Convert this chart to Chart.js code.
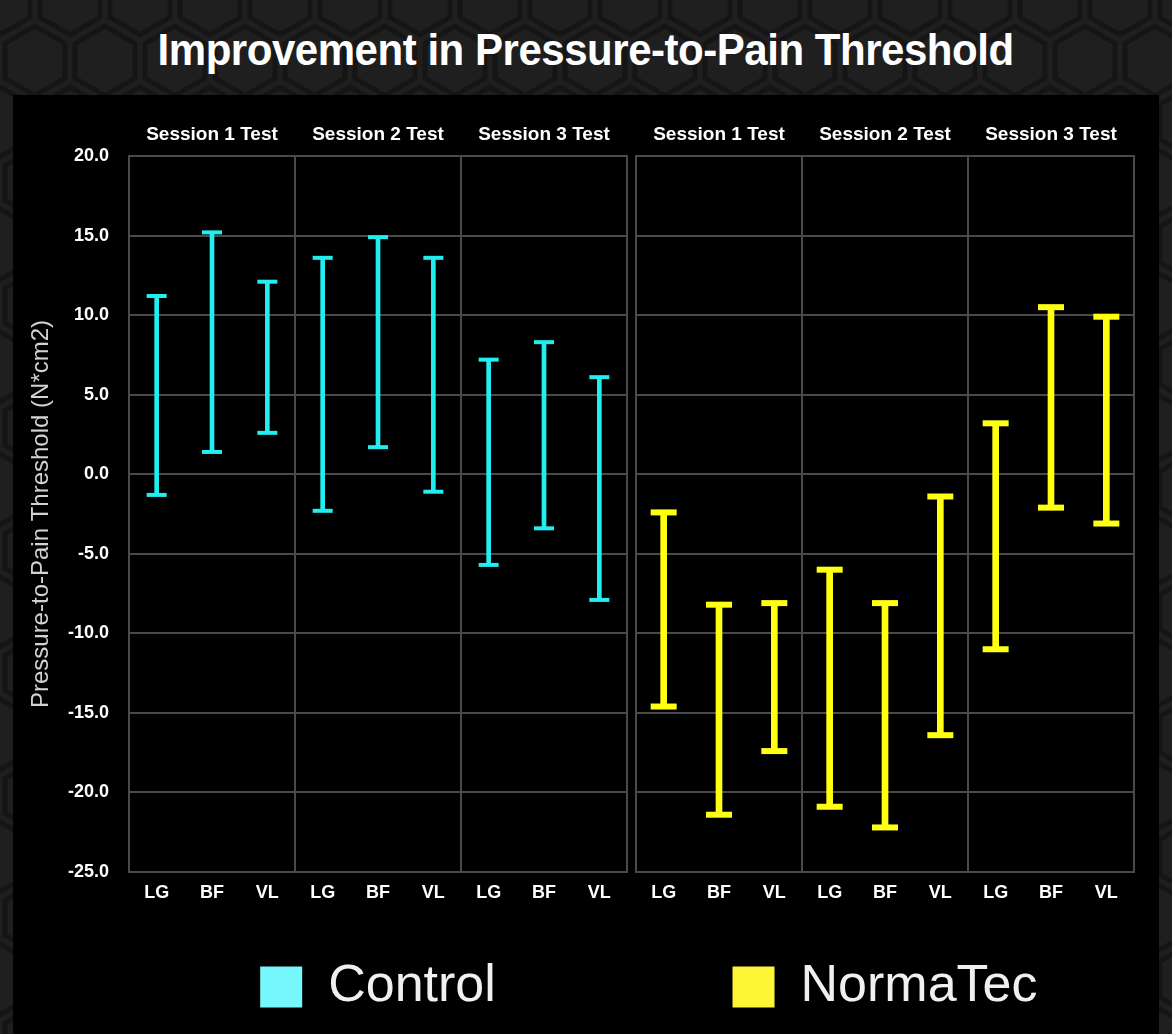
<!DOCTYPE html>
<html>
<head>
<meta charset="utf-8">
<script src="https://cdn.jsdelivr.net/npm/chart.js@4.4.0/dist/chart.umd.min.js"></script>
<style>
html,body{margin:0;padding:0;}
body{width:1172px;height:1034px;overflow:hidden;position:relative;background-color:#1f1f1f;font-family:"Liberation Sans",Arial,sans-serif;}
#panel{position:absolute;left:13px;top:95px;width:1146px;height:939px;background:#000;}
#title{position:absolute;left:0;top:28px;width:1172px;text-align:center;line-height:44px;height:44px;white-space:nowrap;}
#title span{display:inline-block;color:#fff;font-weight:bold;font-size:45px;letter-spacing:-0.5px;transform-origin:50% 50%;}
.wrap{position:absolute;top:95px;height:928px;}
#wl{left:0;width:632px;}
#wr{left:632px;width:540px;}
</style>
</head>
<body>
<div id="panel"></div>
<div id="title"><span id="titleText">Improvement in Pressure-to-Pain Threshold</span></div>
<div class="wrap" id="wl"><canvas id="cl" width="632" height="928"></canvas></div>
<div class="wrap" id="wr"><canvas id="cr" width="540" height="928"></canvas></div>
<script>
// ---- data ----
const sessions = ['Session 1 Test', 'Session 2 Test', 'Session 3 Test'];
const muscles = ['LG', 'BF', 'VL', 'LG', 'BF', 'VL', 'LG', 'BF', 'VL'];
const yTickValues = [20, 15, 10, 5, 0, -5, -10, -15, -20, -25];
const yTitle = 'Pressure-to-Pain Threshold (N*cm2)';
const controlName = 'Control';
const controlHigh = [11.2, 15.2, 12.1, 13.6, 14.9, 13.6, 7.2, 8.3, 6.1];
const controlLow  = [-1.3, 1.4, 2.6, -2.3, 1.7, -1.1, -5.7, -3.4, -7.9];
const normaName = 'NormaTec';
const normaHigh = [-2.4, -8.2, -8.1, -6.0, -8.1, -1.4, 3.2, 10.5, 9.9];
const normaLow  = [-14.6, -21.4, -17.4, -20.9, -22.2, -16.4, -11.0, -2.1, -3.1];

// ---- background hex pattern ----
(function(){
  const svg = '<svg xmlns="http://www.w3.org/2000/svg" width="70" height="122.5" viewBox="0 0 28 49"><path fill="#141414" fill-opacity="0.9" d="M13.99 9.25l13 7.5v15l-13 7.5L1 31.75v-15l12.99-7.5zM3 17.9v12.7l10.99 6.34 11-6.35V17.9l-11-6.34L3 17.9zM0 15l12.98-7.5V0h-2v6.35L0 12.69v2.3zm0 18.5L12.98 41v8h-2v-6.85L0 35.81v-2.3zM15 0v7.5L27.99 15H28v-2.31h-.01L17 6.35V0h-2zm0 49v-8l12.99-7.5H28v2.31h-.01L17 42.15V49h-2z"/></svg>';
  document.body.style.backgroundImage = 'url("data:image/svg+xml,' + encodeURIComponent(svg) + '")';
})();

// fit title width
(function(){
  const t = document.getElementById('titleText');
  const w = t.getBoundingClientRect().width;
  t.style.transform = 'scaleX(' + (856 / w) + ')';
})();

Chart.defaults.font.family = '"Liberation Sans", Arial, sans-serif';

const GRID = '#4a4a4a';

function buildChart(id, name, lows, highs, barColor, legendColor, barW, capR, isLeft) {
  return new Chart(document.getElementById(id), {
    type: 'bar',
    data: {
      labels: muscles,
      datasets: [
        {
          label: name,
          data: lows.map((l, i) => [l, highs[i]]),
          backgroundColor: barColor,
          borderWidth: 0,
          barThickness: barW,
          order: 2
        },
        {
          type: 'line', label: name + ' high', data: highs, showLine: false,
          pointStyle: 'line', pointRadius: capR, pointHoverRadius: capR,
          pointBorderWidth: barW, pointHoverBorderWidth: barW,
          pointBorderColor: barColor, borderColor: barColor, backgroundColor: barColor, order: 1
        },
        {
          type: 'line', label: name + ' low', data: lows, showLine: false,
          pointStyle: 'line', pointRadius: capR, pointHoverRadius: capR,
          pointBorderWidth: barW, pointHoverBorderWidth: barW,
          pointBorderColor: barColor, borderColor: barColor, backgroundColor: barColor, order: 1
        }
      ]
    },
    options: {
      responsive: false,
      animation: false,
      events: [],
      layout: { autoPadding: false, padding: { left: isLeft ? 23 : 4, right: isLeft ? 5 : 38, top: 0, bottom: 0 } },
      plugins: {
        tooltip: { enabled: false },
        legend: {
          position: 'bottom',
          fullSize: false,
          labels: {
            boxWidth: 42,
            boxHeight: 41,
            padding: 10,
            color: '#f0f0f0',
            font: { size: 52 },
            generateLabels: (chart) => {
              const items = Chart.defaults.plugins.legend.labels.generateLabels(chart);
              return items.filter(it => it.datasetIndex === 0).map(it => Object.assign({}, it, {
                fillStyle: legendColor, strokeStyle: legendColor, lineWidth: 0
              }));
            }
          }
        }
      },
      scales: {
        x: {
          type: 'category',
          offset: true,
          grid: { offset: true, color: (c) => (c.index % 3 === 0 ? GRID : 'rgba(0,0,0,0)'), lineWidth: 2, drawTicks: false },
          border: { display: true, color: GRID, width: 2 },
          ticks: { color: '#ffffff', font: { size: 18, weight: 'bold' }, padding: 10, autoSkip: false, maxRotation: 0 },
          afterFit: (s) => { s.height = 79; }
        },
        xTop: {
          type: 'category',
          position: 'top',
          labels: sessions,
          offset: true,
          grid: { display: false, drawTicks: false },
          border: { display: true, color: GRID, width: 2 },
          ticks: { color: '#ffffff', font: { size: 19, weight: 'bold' }, padding: 10, autoSkip: false, maxRotation: 0 },
          afterFit: (s) => { s.height = 61; }
        },
        y: {
          min: -25, max: 20,
          afterBuildTicks: (a) => { a.ticks = yTickValues.map(v => ({ value: v })); },
          grid: { color: GRID, lineWidth: 2, drawTicks: false },
          border: { display: true, color: GRID, width: 2 },
          ticks: { display: isLeft, color: '#ffffff', font: { size: 18, weight: 'bold' }, padding: 20,
                   callback: (v) => Number(v).toFixed(1) },
          title: { display: isLeft, text: yTitle, color: '#d2d2d2', font: { size: 24 } },
          afterFit: (s) => { s.width = isLeft ? 106 : 0; }
        },
        yR: {
          position: 'right',
          min: -25, max: 20,
          grid: { display: false, drawTicks: false },
          border: { display: true, color: GRID, width: 2 },
          ticks: { display: false },
          afterFit: (s) => { s.width = 0; }
        }
      }
    }
  });
}

buildChart('cl', controlName, controlLow, controlHigh, '#22eef0', '#76f7fb', 4, 10, true);
buildChart('cr', normaName, normaLow, normaHigh, '#ffff10', '#fdf536', 6, 13, false);
</script>
</body>
</html>
